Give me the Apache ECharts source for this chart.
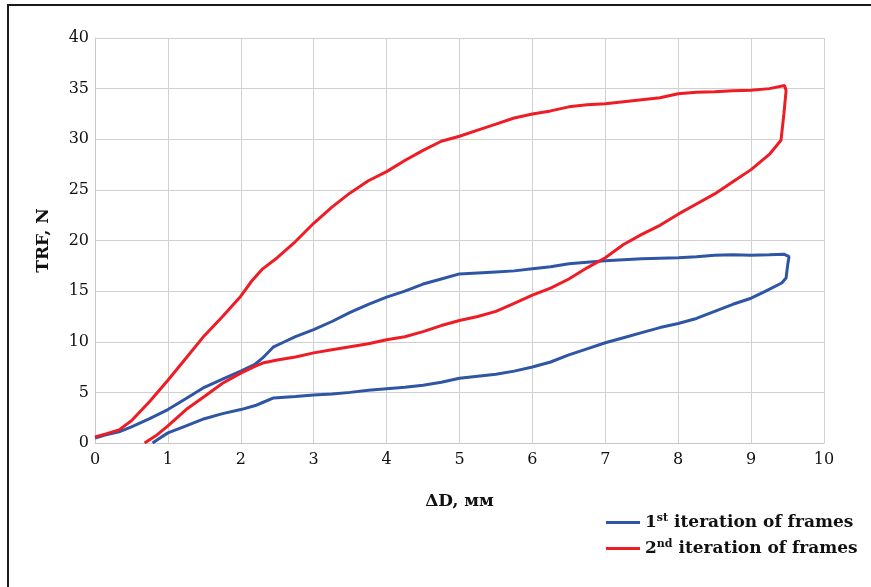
<!DOCTYPE html>
<html>
<head>
<meta charset="utf-8">
<script src="https://cdn.jsdelivr.net/npm/echarts@6/dist/echarts.min.js"></script>
<style>
html,body{margin:0;padding:0;background:#fff;}
#chart{width:871px;height:587px;}
</style>
</head>
<body>
<div id="chart"></div>
<script>
// Data: [ΔD (mm), TRF (N)]
const seriesNames = ['1st iteration of frames', '2nd iteration of frames'];
const xTicks = [0,1,2,3,4,5,6,7,8,9,10];
const yTicks = [0,5,10,15,20,25,30,35,40];

const iteration1 = [
  [0,0.5],[0.15,0.8],[0.33,1.1],[0.5,1.6],[0.75,2.4],[1,3.3],[1.25,4.4],[1.5,5.5],[1.75,6.3],[2,7.1],
  [2.2,7.8],[2.3,8.4],[2.45,9.5],[2.6,10.0],[2.75,10.5],[3,11.2],[3.25,12.0],[3.5,12.9],[3.75,13.7],[4,14.4],
  [4.25,15.0],[4.5,15.7],[4.75,16.2],[5,16.7],[5.25,16.8],[5.5,16.9],[5.75,17.0],[6,17.2],[6.25,17.4],[6.5,17.7],
  [6.75,17.85],[7,18.0],[7.5,18.2],[8,18.3],[8.25,18.4],[8.5,18.55],[8.75,18.6],[9,18.55],[9.25,18.6],[9.45,18.65],
  [9.52,18.4],[9.5,17.5],[9.48,16.3],[9.42,15.8],[9.2,15.0],[9,14.3],[8.75,13.7],[8.5,13.0],[8.25,12.3],[8,11.8],
  [7.75,11.4],[7.5,10.9],[7.25,10.4],[7,9.9],[6.75,9.3],[6.5,8.7],[6.25,8.0],[6,7.5],[5.75,7.1],[5.5,6.8],
  [5.25,6.6],[5,6.4],[4.75,6.0],[4.5,5.7],[4.25,5.5],[4,5.35],[3.75,5.2],[3.5,5.0],[3.25,4.85],[3,4.75],
  [2.75,4.6],[2.45,4.45],[2.3,4.0],[2.2,3.7],[2,3.3],[1.75,2.9],[1.5,2.4],[1.25,1.7],[1,1.0],[0.85,0.3],[0.79,0]
];

const iteration2 = [
  [0,0.6],[0.15,0.9],[0.33,1.3],[0.5,2.2],[0.75,4.1],[1,6.2],[1.25,8.4],[1.5,10.6],[1.75,12.5],[2,14.5],
  [2.15,16.0],[2.3,17.2],[2.5,18.3],[2.75,19.9],[3,21.7],[3.25,23.3],[3.5,24.7],[3.75,25.9],[4,26.8],[4.25,27.9],
  [4.5,28.9],[4.75,29.8],[5,30.3],[5.25,30.9],[5.5,31.5],[5.75,32.1],[6,32.5],[6.25,32.8],[6.5,33.2],[6.75,33.4],
  [7,33.5],[7.25,33.7],[7.5,33.9],[7.75,34.1],[8,34.5],[8.25,34.65],[8.5,34.7],[8.75,34.8],[9,34.85],[9.25,35.0],
  [9.46,35.3],[9.48,34.8],[9.45,32.5],[9.41,29.9],[9.25,28.5],[9,27.0],[8.75,25.8],[8.5,24.6],[8.25,23.6],[8,22.6],
  [7.75,21.5],[7.5,20.6],[7.25,19.6],[7,18.3],[6.75,17.3],[6.5,16.2],[6.25,15.3],[6,14.6],[5.75,13.8],[5.5,13.0],
  [5.25,12.5],[5,12.1],[4.75,11.6],[4.5,11.0],[4.25,10.5],[4,10.2],[3.75,9.8],[3.5,9.5],[3.25,9.2],[3,8.9],
  [2.75,8.5],[2.5,8.2],[2.3,7.9],[2.2,7.6],[2,6.9],[1.75,5.9],[1.5,4.6],[1.25,3.3],[1,1.7],[0.85,0.8],[0.68,0]
];

const colors = ['#2f55a5', '#ee1c25'];
const serif = '"DejaVu Serif", "Liberation Serif", serif';

const chart = echarts.init(document.getElementById('chart'), null, {renderer:'canvas'});
chart.setOption({
  animation: false,
  backgroundColor: '#fff',
  grid: {left: 95, right: 47, top: 38, bottom: 144, containLabel: false},
  xAxis: {
    type: 'value', min: xTicks[0], max: xTicks[xTicks.length-1], interval: 1,
    name: 'ΔD, мм', nameLocation: 'middle', nameGap: 50,
    nameTextStyle: {fontFamily: serif, fontSize: 17, fontWeight: 'bold', color: '#111'},
    axisLine: {show: true, lineStyle: {color: '#c8c8c8', width: 1}},
    axisTick: {show: false},
    axisLabel: {fontFamily: serif, fontSize: 16, color: '#111', margin: 9},
    splitLine: {show: true, lineStyle: {color: '#d0d0d0', width: 1}}
  },
  yAxis: {
    type: 'value', min: yTicks[0], max: yTicks[yTicks.length-1], interval: 5,
    name: 'TRF, N', nameLocation: 'middle', nameGap: 43, nameRotate: 90,
    nameTextStyle: {fontFamily: serif, fontSize: 17, fontWeight: 'bold', color: '#111'},
    axisLine: {show: true, lineStyle: {color: '#c8c8c8', width: 1}},
    axisTick: {show: false},
    axisLabel: {fontFamily: serif, fontSize: 16, color: '#111', margin: 6},
    splitLine: {show: true, lineStyle: {color: '#d0d0d0', width: 1}}
  },
  legend: {
    orient: 'vertical', left: 601, top: 508, itemGap: 8,
    itemWidth: 34, itemHeight: 3, icon: 'rect', itemGap: 8,
    data: seriesNames,
    formatter: function (name) {
      return name.indexOf('1st') === 0
        ? '1{sup|st} iteration of frames'
        : '2{sup|nd} iteration of frames';
    },
    textStyle: {
      fontFamily: serif, fontSize: 17, fontWeight: 'bold', color: '#111', padding: [0,0,0,0],
      rich: {sup: {fontFamily: serif, fontSize: 11, fontWeight: 'bold', color: '#111', verticalAlign: 'top', padding: [0,0,8,0]}}
    }
  },
  series: [
    {name: seriesNames[0], type: 'line', data: iteration1, showSymbol: false, symbol: 'none',
     lineStyle: {color: colors[0], width: 3}, itemStyle: {color: colors[0]}, clip: true},
    {name: seriesNames[1], type: 'line', data: iteration2, showSymbol: false, symbol: 'none',
     lineStyle: {color: colors[1], width: 3}, itemStyle: {color: colors[1]}, clip: true}
  ],
  graphic: [
    {type: 'line', shape: {x1: 7.5, y1: 5, x2: 871, y2: 5}, style: {stroke: '#1a1a1a', lineWidth: 2}},
    {type: 'line', shape: {x1: 8, y1: 4, x2: 8, y2: 587}, style: {stroke: '#1a1a1a', lineWidth: 2}}
  ]
});
</script>
</body>
</html>
